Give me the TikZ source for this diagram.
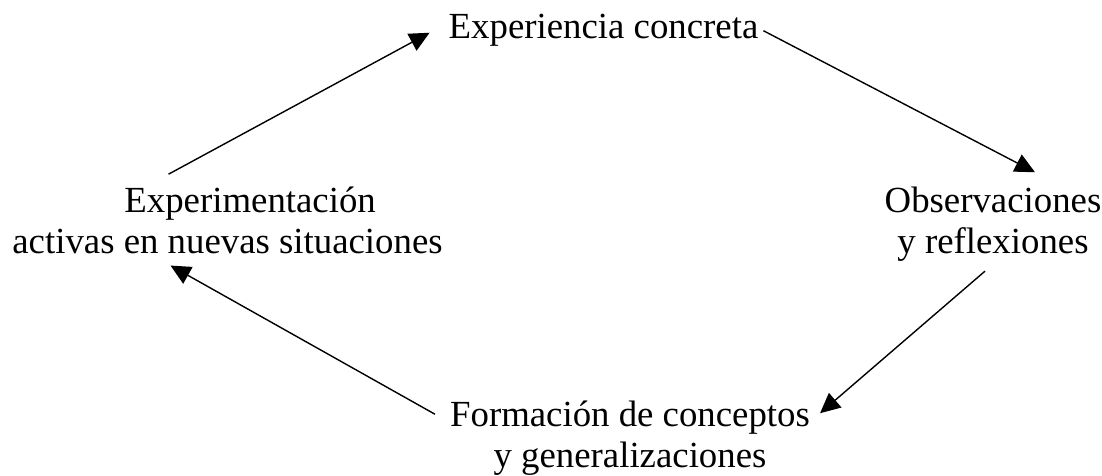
\documentclass[tikz,border=0pt]{standalone}
\usepackage{fontspec}
\setmainfont{Liberation Serif}
\usetikzlibrary{arrows.meta,calc}
\begin{document}
\begin{tikzpicture}[x=1pt,y=-1pt,
  lbl/.style={inner sep=0pt,align=center,font=\fontsize{36.8}{41}\selectfont},
  arr/.style={line width=1.4pt,-{Triangle[length=20pt,width=19pt]}}]
\useasboundingbox (0,0) rectangle (1102,476);
\node[lbl,anchor=base] (T) at (603.5,39) {Experiencia concreta};
\node[lbl,anchor=base] (R) at (993,253) {Observaciones\\y reflexiones};
\node[lbl,anchor=base] (B) at (630,467) {Formación de conceptos\\y generalizaciones};
\node[lbl,anchor=base] (L) at (227.5,253) {\hspace*{1.23em}Experimentación\\activas en nuevas situaciones};
\draw[arr] ($(L.north)+(-59,-12)$) -- ($(T.west)+(-19,2)$);
\draw[arr] ($(T.east)+(5,0)$) -- ($(R.north)+(42,-14)$);
\draw[arr] ($(R.south)+(-8,10)$) -- ($(B.north east)+(10,13)$);
\draw[arr] ($(B.north west)+(-15,14)$) -- ($(L.south)+(-57,12)$);
\end{tikzpicture}
\end{document}
